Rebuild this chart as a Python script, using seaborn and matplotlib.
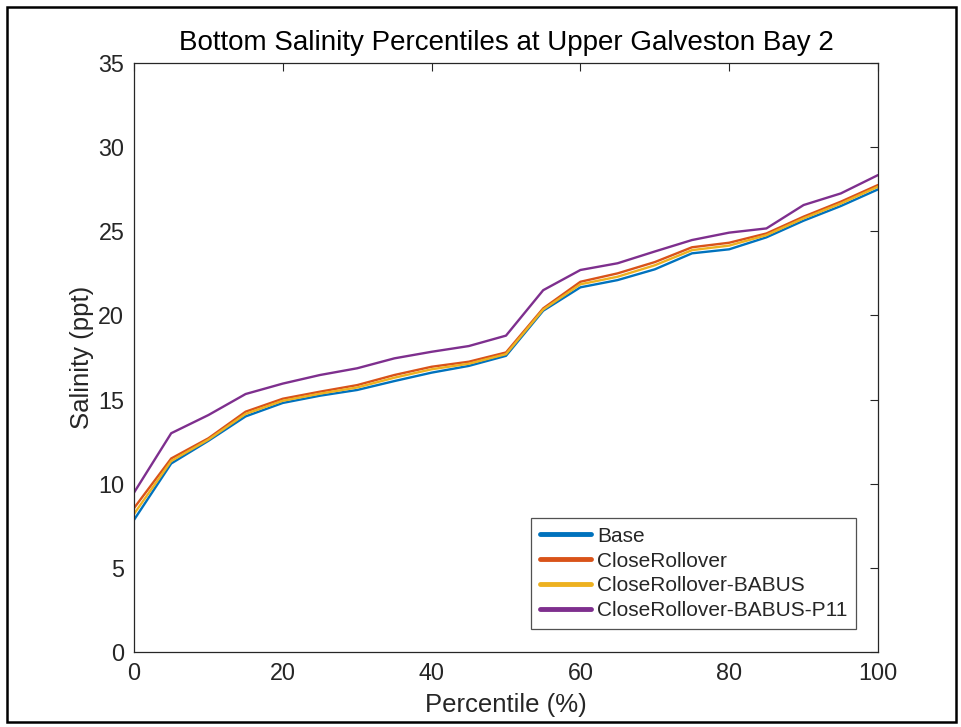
import numpy as np
import pandas as pd
import seaborn as sns
import matplotlib
matplotlib.use("Agg")
import matplotlib.pyplot as plt
from matplotlib.patches import Rectangle

percentiles = [0, 5, 10, 15, 20, 25, 30, 35, 40, 45, 50, 55, 60, 65, 70, 75, 80, 85, 90, 95, 100]
base = [7.85, 11.2, 12.55, 14.0, 14.8, 15.23, 15.57, 16.1, 16.6, 17.0, 17.6, 20.28, 21.67, 22.1, 22.74, 23.69, 23.93, 24.64, 25.63, 26.5, 27.49]
close_rollover = [8.55, 11.5, 12.7, 14.28, 15.05, 15.47, 15.86, 16.46, 16.95, 17.25, 17.8, 20.42, 22.0, 22.5, 23.17, 24.05, 24.32, 24.87, 25.87, 26.76, 27.75]
close_rollover_babus = [8.2, 11.35, 12.62, 14.15, 14.93, 15.35, 15.72, 16.3, 16.8, 17.13, 17.7, 20.35, 21.85, 22.3, 22.98, 23.88, 24.15, 24.77, 25.77, 26.65, 27.65]
close_rollover_babus_p11 = [9.47, 13.0, 14.08, 15.33, 15.95, 16.46, 16.86, 17.45, 17.84, 18.18, 18.8, 21.5, 22.7, 23.1, 23.8, 24.48, 24.92, 25.17, 26.56, 27.25, 28.34]

series_names = ["Base", "CloseRollover", "CloseRollover-BABUS", "CloseRollover-BABUS-P11"]
series_values = [base, close_rollover, close_rollover_babus, close_rollover_babus_p11]
colors = ["#0072BD", "#D95319", "#EDB120", "#7E2F8E"]

df = pd.concat(
    [pd.DataFrame({"Percentile": percentiles, "Salinity": vals, "Scenario": name})
     for name, vals in zip(series_names, series_values)],
    ignore_index=True,
)

sns.set_theme(style="white")
plt.rcParams["font.family"] = ["Liberation Sans", "DejaVu Sans"]

fig = plt.figure(figsize=(9.62, 7.27), dpi=100)
W, H = 962, 727
ax = fig.add_axes([134 / W, 1 - 652 / H, (878 - 134) / W, (652 - 63) / H])

sns.lineplot(data=df, x="Percentile", y="Salinity", hue="Scenario",
             hue_order=series_names, palette=colors, linewidth=1.7,
             ax=ax, legend=True, estimator=None, sort=False)

ax.set_xlim(0, 100)
ax.set_ylim(0, 35)
ax.set_xticks([0, 20, 40, 60, 80, 100])
ax.set_yticks([0, 5, 10, 15, 20, 25, 30, 35])
ax.tick_params(axis="both", which="both", direction="in", length=6, width=0.8,
               top=True, right=True, labelsize=16.8, colors="#262626", pad=7)
for s in ax.spines.values():
    s.set_visible(True)
    s.set_color("#262626")
    s.set_linewidth(0.9)

ax.set_xlabel("Percentile (%)", fontsize=18.5, color="#262626", labelpad=6)
ax.set_ylabel("Salinity (ppt)", fontsize=18.5, color="#262626", labelpad=3)
ax.set_title("Bottom Salinity Percentiles at Upper Galveston Bay 2", fontsize=20,
             color="#000000", pad=9)

leg = ax.legend(title=None, loc="lower right", bbox_to_anchor=(0.9705, 0.039),
                fontsize=15, frameon=True, fancybox=False, borderpad=0.42,
                handlelength=2.45, handletextpad=0.3, labelspacing=0.28,
                borderaxespad=0.0)
leg.get_frame().set_edgecolor("#262626")
leg.get_frame().set_linewidth(0.9)
for line in leg.get_lines():
    line.set_linewidth(3.5)

fig.patches.append(Rectangle((7 / W, 1 - 722 / H), (956 - 7) / W, (722 - 7) / H,
                             transform=fig.transFigure, fill=False,
                             edgecolor="black", linewidth=1.8))

fig.savefig("out.png", dpi=100)
